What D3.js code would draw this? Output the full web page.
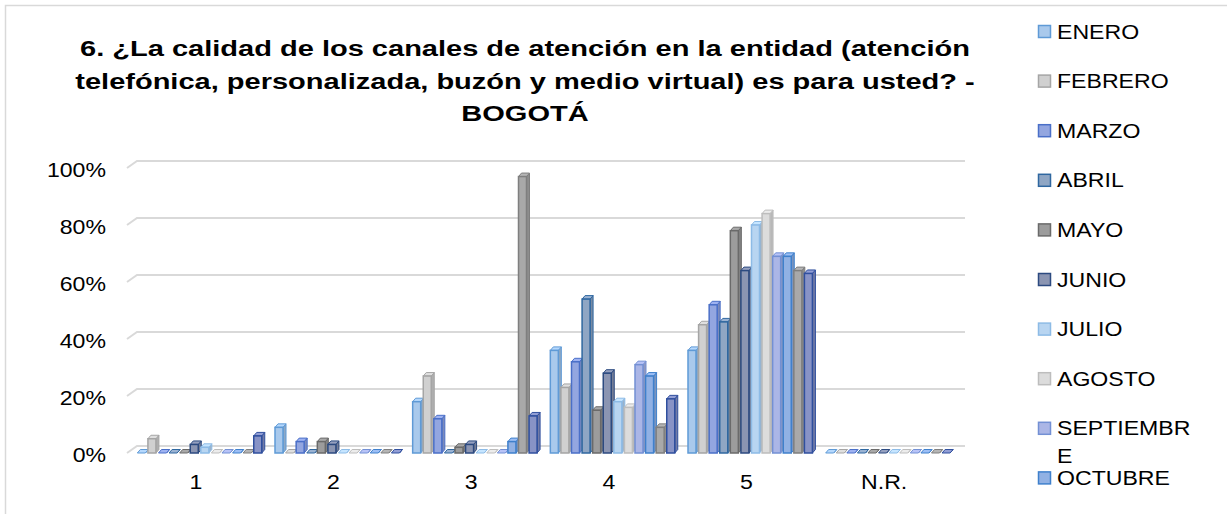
<!DOCTYPE html>
<html>
<head>
<meta charset="utf-8">
<script src="https://cdn.jsdelivr.net/npm/d3@7"></script>
<style>
  body { margin: 0; background: #fff; }
  text { font-family: "Liberation Sans", Arial, sans-serif; fill: #000; }
</style>
</head>
<body>
<svg id="chart" width="1227" height="514"></svg>
<script>
// categories on the x axis
var categories = ["1", "2", "3", "4", "5", "N.R."];
var months = ["ENERO", "FEBRERO", "MARZO", "ABRIL", "MAYO", "JUNIO", "JULIO",
              "AGOSTO", "SEPTIEMBRE", "OCTUBRE", "NOVIEMBRE", "DICIEMBRE"];
var yTicks = [0, 0.2, 0.4, 0.6, 0.8, 1];

// percent per category (1, 2, 3, 4, 5, N.R.), one list per month
var enero      = [0, 9, 18, 36, 36, 0];
var febrero    = [5, 0, 27, 23, 45, 0];
var marzo      = [0, 4, 12, 32, 52, 0];
var abril      = [0, 0, 0, 54, 46, 0];
var mayo       = [0, 4, 2, 15, 78, 0];
var junio      = [3, 3, 3, 28, 64, 0];
var julio      = [2, 0, 0, 18, 80, 0];
var agosto     = [0, 0, 0, 16, 84, 0];
var septiembre = [0, 0, 0, 31, 69, 0];
var octubre    = [0, 0, 4, 27, 69, 0];
var noviembre  = [0, 0, 97, 9, 64, 0];
var diciembre  = [6, 0, 13, 19, 63, 0];
var seriesValues = [enero, febrero, marzo, abril, mayo, junio, julio,
                    agosto, septiembre, octubre, noviembre, diciembre];

// colours: face fill and edge
var fills   = ["#a9c9ec", "#d0d0d0", "#93a6e0", "#8fa6c4", "#9c9c9c", "#8b95b2",
               "#b8d5f1", "#dcdcdc", "#abb6e6", "#91b1e4", "#a9a9a9", "#8893c6"];
var strokes = ["#5f9ad6", "#a5a5a5", "#4a6fc8", "#2f67a0", "#6a6a6a", "#2c4a80",
               "#8dbbe6", "#bdbdbd", "#7390d4", "#3f80cc", "#7f7f7f", "#2f4f9e"];

var svg = d3.select("#chart");

// outer frame
svg.append("rect")
    .attr("x", 5.5).attr("y", 5.5)
    .attr("width", 1240).attr("height", 540)
    .attr("fill", "none")
    .attr("stroke", "#d9d9d9")
    .attr("stroke-width", 1.5);

var x = d3.scaleBand().domain(categories).range([127, 953]);
var y = d3.scaleLinear().domain([0, 1]).range([453, 168]);
var groupW = 127;
var xs = d3.scaleBand().domain(months).range([0, groupW]);
var barW = 8, dx = 3, dy = -3.5;
var backX = 10, backY = -7;

// back wall gridlines (with the little 3D corner on the left)
svg.append("g").selectAll("path")
    .data(yTicks)
    .enter().append("path")
    .attr("d", function(d) {
        var yy = y(d);
        return "M127," + yy + "L" + (127 + backX) + "," + (yy + backY) + "L965," + (yy + backY);
    })
    .attr("fill", "none")
    .attr("stroke", "#d9d9d9")
    .attr("stroke-width", 2);

// y axis labels
var yAxis = svg.append("g")
    .attr("transform", "translate(106,2)")
    .call(d3.axisLeft(y).tickValues(yTicks).tickFormat(d3.format(".0%")).tickSize(0).tickPadding(0));
yAxis.select(".domain").remove();
yAxis.selectAll("text")
    .attr("font-size", 21)
    .attr("font-family", "Liberation Sans, Arial, sans-serif")
    .attr("fill", "#000")
    .attr("transform", "scale(1.1,1)");

// x axis labels
svg.append("g").selectAll("text")
    .data(categories)
    .enter().append("text")
    .attr("transform", function(d) { return "translate(" + (x(d) + x.bandwidth() / 2) + ",489) scale(1.1,1)"; })
    .attr("text-anchor", "middle")
    .attr("font-size", 21)
    .text(function(d) { return d; });

// bars, one small 3D box per month and category
var bars = [];
categories.forEach(function(c, ci) {
    months.forEach(function(m, mi) {
        bars.push({ cat: c, month: m, i: mi, v: seriesValues[mi][ci] / 100 });
    });
});

var box = svg.append("g").selectAll("g.bar")
    .data(bars)
    .enter().append("g")
    .attr("class", "bar");

function x0(d) { return x(d.cat) + (x.bandwidth() - groupW) / 2 + 5 + xs(d.month); }

// side face
box.append("path")
    .attr("d", function(d) {
        var l = x0(d) + barW, t = y(d.v), b = y(0);
        return "M" + l + "," + t + "L" + (l + dx) + "," + (t + dy) + "L" + (l + dx) + "," + (b + dy) + "L" + l + "," + b + "Z";
    })
    .attr("fill", function(d) { return d3.color(fills[d.i]).darker(0.5); })
    .attr("stroke", function(d) { return strokes[d.i]; })
    .attr("stroke-width", 1);

// top face
box.append("path")
    .attr("d", function(d) {
        var l = x0(d), t = y(d.v);
        return "M" + l + "," + t + "L" + (l + dx) + "," + (t + dy) + "L" + (l + barW + dx) + "," + (t + dy) + "L" + (l + barW) + "," + t + "Z";
    })
    .attr("fill", function(d) { return d3.color(fills[d.i]).brighter(0.2); })
    .attr("stroke", function(d) { return strokes[d.i]; })
    .attr("stroke-width", 1);

// front face
box.append("rect")
    .attr("x", function(d) { return x0(d); })
    .attr("y", function(d) { return y(d.v); })
    .attr("width", barW)
    .attr("height", function(d) { return y(0) - y(d.v); })
    .attr("fill", function(d) { return fills[d.i]; })
    .attr("stroke", function(d) { return strokes[d.i]; })
    .attr("stroke-width", 1.5);

// title
var titleLines = ["6. ¿La calidad de los canales de atención en la entidad (atención",
                  "telefónica, personalizada, buzón y medio virtual) es para usted? -",
                  "BOGOTÁ"];
svg.append("g").selectAll("text")
    .data(titleLines)
    .enter().append("text")
    .attr("transform", function(d, i) { return "translate(525," + (56 + i * 32.5) + ") scale(1.29,1)"; })
    .attr("text-anchor", "middle")
    .attr("font-size", 22.5)
    .attr("font-weight", "bold")
    .text(function(d) { return d; });

// legend: like the original, entries that do not fit in the height are dropped
var legendStep = 49.6;
var shown = months.filter(function(d, i) { return 31 + i * legendStep < 500; });
var legend = svg.append("g").selectAll("g.legend")
    .data(shown)
    .enter().append("g")
    .attr("class", "legend")
    .attr("transform", function(d, i) { return "translate(1038," + (31 + i * legendStep) + ")"; });

legend.append("rect")
    .attr("x", 0.5).attr("y", -5.5)
    .attr("width", 12).attr("height", 12)
    .attr("fill", function(d, i) { return fills[i]; })
    .attr("stroke", function(d, i) { return strokes[i]; })
    .attr("stroke-width", 1.5);

// labels wrap by character when too wide
legend.append("text")
    .attr("transform", "translate(19,7.5) scale(1.1,1)")
    .attr("font-size", 21)
    .each(function(d) {
        var t = d3.select(this);
        var line = "", lines = [];
        for (var k = 0; k < d.length; k++) {
            t.text(line + d[k]);
            if (this.getComputedTextLength() > 128 && line.length) {
                lines.push(line);
                line = d[k];
            } else {
                line += d[k];
            }
        }
        lines.push(line);
        t.text(null);
        lines.forEach(function(l, li) {
            t.append("tspan").attr("x", 0).attr("y", li * 28).text(l);
        });
    });
</script>
</body>
</html>
